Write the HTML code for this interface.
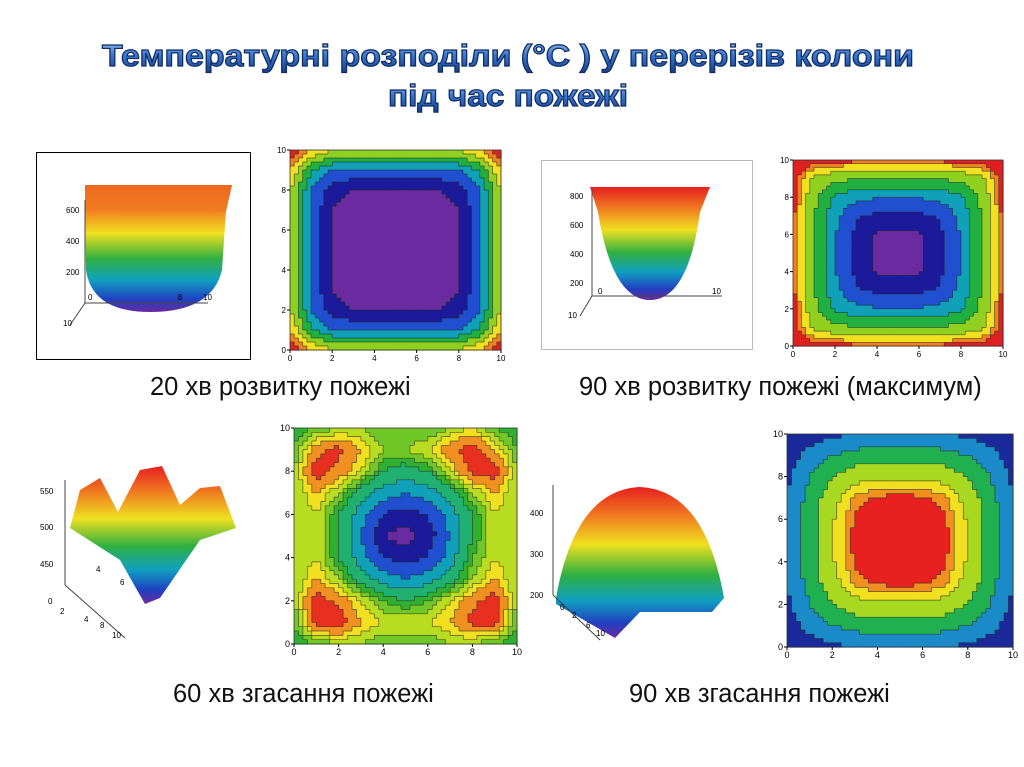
<!DOCTYPE html>
<html><head><meta charset="utf-8">
<style>
body{margin:0;background:#fff;width:1024px;height:767px;overflow:hidden;font-family:"Liberation Sans",sans-serif;}
svg{position:absolute;left:0;top:0}
.cap{position:absolute;font-size:25.5px;color:#111;white-space:nowrap}
</style></head>
<body>
<svg id="s" width="1024" height="767">
<defs>
<linearGradient id="tg" x1="0" y1="0" x2="0" y2="1"><stop offset="0" stop-color="#a8c8f0"/><stop offset="0.5" stop-color="#3a76d0"/><stop offset="1" stop-color="#143e8a"/></linearGradient>
<linearGradient id="rb" x1="0" y1="0" x2="0" y2="1"><stop offset="0" stop-color="#e82020"/><stop offset="0.2" stop-color="#f08020"/><stop offset="0.38" stop-color="#f0e020"/><stop offset="0.58" stop-color="#30b040"/><stop offset="0.75" stop-color="#10a0c0"/><stop offset="0.9" stop-color="#2040c0"/><stop offset="1" stop-color="#6a2aa0"/></linearGradient>
</defs>
<g font-family="Liberation Sans, sans-serif" font-weight="bold" font-size="31" fill="url(#tg)" stroke="#0f2e66" stroke-width="1.2" text-anchor="middle">
<text x="508" y="66" textLength="812" lengthAdjust="spacingAndGlyphs">Температурні розподіли (°С ) у перерізів колони</text>
<text x="508" y="106" textLength="240" lengthAdjust="spacingAndGlyphs">під час пожежі</text>
</g>

<g>
<rect x="36.5" y="152.5" width="214" height="207" fill="#fff" stroke="#000"/>
<path d="M85,208 L85,185 L232,185 L226,210 L222,270 Q212,312 150,312 Q92,312 86,270 Z" fill="url(#rb)"/>
<path d="M85,185 L232,185 L226,212 L85,208 Z" fill="#f07a20" opacity="0.8"/>
<line x1="85" y1="303" x2="208" y2="303" stroke="#444"/><line x1="85" y1="303" x2="85" y2="200" stroke="#444"/><line x1="85" y1="303" x2="70" y2="325" stroke="#444"/>
<g font-size="8" fill="#000"><text x="66" y="213">600</text><text x="66" y="244">400</text><text x="66" y="275">200</text><text x="88" y="300">0</text><text x="178" y="300">8</text><text x="203" y="300">10</text><text x="63" y="326">10</text></g>
</g>
<g>
<rect x="541.5" y="160.5" width="211" height="189" fill="#fff" stroke="#bbb"/>
<path d="M590,187 L710,187 L700,212 Q688,300 650,300 Q612,300 598,212 Z" fill="url(#rb)"/>
<line x1="592" y1="296" x2="722" y2="296" stroke="#444"/><line x1="592" y1="296" x2="592" y2="190" stroke="#444"/><line x1="592" y1="296" x2="580" y2="316" stroke="#444"/>
<g font-size="8" fill="#000"><text x="570" y="199">800</text><text x="570" y="228">600</text><text x="570" y="257">400</text><text x="570" y="286">200</text><text x="598" y="294">0</text><text x="712" y="294">10</text><text x="568" y="318">10</text></g>
</g>
<g>
<path d="M70,528 L80,490 L100,478 L118,512 L140,470 L162,466 L180,505 L200,488 L220,486 L236,528 L200,540 L160,598 L145,604 L120,560 Z" fill="url(#rb)"/>
<line x1="65" y1="585" x2="65" y2="480" stroke="#444"/><line x1="65" y1="585" x2="125" y2="638" stroke="#444"/>
<g font-size="8" fill="#000"><text x="40" y="494">550</text><text x="40" y="530">500</text><text x="40" y="567">450</text><text x="48" y="604">0</text><text x="60" y="614">2</text><text x="84" y="622">4</text><text x="100" y="628">8</text><text x="112" y="638">10</text><text x="96" y="572">4</text><text x="120" y="585">6</text></g>
</g>
<g>
<path d="M556,598 Q575,490 640,487 Q705,490 724,598 L712,612 L640,612 L615,638 L556,604 Z" fill="url(#rb)"/>
<line x1="553" y1="595" x2="553" y2="485" stroke="#444"/><line x1="553" y1="595" x2="600" y2="640" stroke="#444"/>
<g font-size="8" fill="#000"><text x="530" y="516">400</text><text x="530" y="557">300</text><text x="530" y="598">200</text><text x="560" y="610">0</text><text x="572" y="618">2</text><text x="586" y="628">6</text><text x="596" y="636">10</text></g>
</g>
<g id="charts"></g>
</svg>
<div class="cap" style="left:150px;top:373px">20 хв розвитку пожежі</div>
<div class="cap" style="left:579px;top:373px">90 хв розвитку пожежі (максимум)</div>
<div class="cap" style="left:173px;top:680px">60 хв згасання пожежі</div>
<div class="cap" style="left:629px;top:680px">90 хв згасання пожежі</div>
<script>
const grid20=[
[900,700,600,600,600,600,600,600,600,700,900],
[700,420,300,290,290,290,290,290,300,420,700],
[600,300,150,90,80,80,80,90,150,300,600],
[600,290,90,50,50,50,50,50,90,290,600],
[600,290,80,50,50,50,50,50,80,290,600],
[600,290,80,50,50,50,50,50,80,290,600],
[600,290,80,50,50,50,50,50,80,290,600],
[600,290,90,50,50,50,50,50,90,290,600],
[600,300,150,90,80,80,80,90,150,300,600],
[700,420,300,290,290,290,290,290,300,420,700],
[900,700,600,600,600,600,600,600,600,700,900]];
const levels20=[100,200,300,400,500,600,700,800];
const grid90=[
[950,920,900,890,880,880,880,890,900,920,950],
[920,720,680,660,650,650,650,660,680,720,920],
[900,680,520,480,460,460,460,480,520,680,900],
[890,660,480,360,330,320,330,360,480,660,890],
[880,650,460,330,240,220,240,330,460,650,880],
[880,650,460,320,220,180,220,320,460,650,880],
[880,650,460,330,240,220,240,330,460,650,880],
[890,660,480,360,330,320,330,360,480,660,890],
[900,680,520,480,460,460,460,480,520,680,900],
[920,720,680,660,650,650,650,660,680,720,920],
[950,920,900,890,880,880,880,890,900,920,950]];
const levels90=[250,350,450,550,650,750,830,870];
const grid60=[
[500,510,520,520,510,510,510,520,530,510,500],
[510,550,560,540,520,520,530,550,565,540,510],
[520,565,550,530,500,490,500,530,560,565,520],
[520,540,520,490,470,460,470,490,520,540,520],
[520,530,500,470,440,430,440,470,500,530,520],
[520,530,500,460,420,410,430,460,500,530,520],
[520,530,500,470,440,430,440,470,510,530,520],
[520,540,520,490,470,460,470,490,520,540,520],
[520,565,550,530,510,500,510,530,550,565,520],
[510,560,565,540,530,530,530,540,560,560,510],
[500,510,520,520,510,510,510,520,520,510,500]];
const levels60=[420,440,460,480,500,510,520,530,540,555];
const grid90d=[
[190,220,240,250,250,250,250,250,240,220,190],
[220,270,300,320,330,330,330,320,300,270,220],
[240,300,350,380,390,390,390,380,350,300,240],
[250,320,380,440,455,460,455,440,380,320,250],
[250,330,395,455,470,475,470,455,395,330,250],
[250,330,395,458,472,478,472,458,395,330,250],
[250,330,395,455,470,475,470,455,395,330,250],
[250,320,380,440,455,460,455,440,380,320,250],
[240,300,350,380,390,390,390,380,350,300,240],
[220,270,300,320,330,330,330,320,300,270,220],
[190,220,240,250,250,250,250,250,240,220,190]];
const levels90d=[250,300,350,400,430,450];
const ticks=[0,2,4,6,8,10];
const pal9=["#6a2aa0","#1a1a9a","#2050d0","#10a0b8","#20b040","#90d020","#f0e020","#f08020","#e02020"];
const pal11=["#6a2aa0","#1a1a9a","#2050d0","#10a0b8","#20b070","#30b030","#70c828","#b8dc20","#f0e020","#f09020","#e83020"];
const pal7=["#1a2a9a","#1a8ac8","#20b050","#a8d820","#f0e020","#f09020","#e82020"];
const NS="http://www.w3.org/2000/svg";
const root=document.getElementById('charts');
function mk(t,a,p){const e=document.createElementNS(NS,t);for(const k in a)e.setAttribute(k,a[k]);p.appendChild(e);return e;}
function drawContour(name,grid,levels,pal,x0,y0,x1,y1,fs){
  const g=mk('g',{},root);
  
  
  const sx=v=>x0+(x1-x0)*v/10, sy=v=>y1-(y1-y0)*v/10;
  const N=50;
  const cw=(x1-x0)/N, ch=(y1-y0)/N;
  const n=grid.length-1;
  const cls=[];
  for(let i=0;i<N;i++){cls.push([]);for(let j=0;j<N;j++){
    const u=(i+0.5)/N*n, w=(j+0.5)/N*n;
    const c0=Math.floor(u),r0=Math.floor(w);const fu=u-c0,fw=w-r0;
    const c1=Math.min(c0+1,n),r1=Math.min(r0+1,n);
    const v=grid[r0][c0]*(1-fu)*(1-fw)+grid[r0][c1]*fu*(1-fw)+grid[r1][c0]*(1-fu)*fw+grid[r1][c1]*fu*fw;
    let k=0;while(k<levels.length&&v>=levels[k])k++;
    cls[i].push(k);
    const cell=mk('rect',{x:(x0+i*cw).toFixed(2),y:(y0+j*ch).toFixed(2),width:(cw+0.6).toFixed(2),height:(ch+0.6).toFixed(2),fill:pal[k]},g);
    
    
  }}
  let d='';
  for(let i=0;i<N;i++)for(let j=0;j<N;j++){
    if(i<N-1&&cls[i][j]!==cls[i+1][j]){const x=x0+(i+1)*cw;d+=`M${x.toFixed(1)},${(y0+j*ch).toFixed(1)}v${ch.toFixed(2)}`;}
    if(j<N-1&&cls[i][j]!==cls[i][j+1]){const y=y0+(j+1)*ch;d+=`M${(x0+i*cw).toFixed(1)},${y.toFixed(1)}h${cw.toFixed(2)}`;}
  }
  const cl=mk('path',{d:d,stroke:'#222','stroke-width':0.7,fill:'none',opacity:0.7},g);
  
  
  mk('rect',{x:x0,y:y0,width:x1-x0,height:y1-y0,fill:'none',stroke:'#333','stroke-width':0.8},g);
  ticks.forEach(t=>{
    const a=mk('text',{x:sx(t),y:y1+11,'font-size':fs,'text-anchor':'middle',fill:'#000'},g);a.textContent=t;
    
    
    const b=mk('text',{x:x0-4,y:sy(t)+3,'font-size':fs,'text-anchor':'end',fill:'#000'},g);b.textContent=t;
    
    
    mk('line',{x1:sx(t),y1:y1,x2:sx(t),y2:y1+3,stroke:'#000'},g);
    mk('line',{x1:x0-3,y1:sy(t),x2:x0,y2:sy(t),stroke:'#000'},g);
  });
}
drawContour('contour-20min',grid20,levels20,pal9,290,150,501,350,8);
drawContour('contour-90min-max',grid90,levels90,pal9,793,160,1003,346,8);
drawContour('contour-60min-decay',grid60,levels60,pal11,294,428,517,644,9);
drawContour('contour-90min-decay',grid90d,levels90d,pal7,787,434,1013,647,9);
</script>
</body></html>
